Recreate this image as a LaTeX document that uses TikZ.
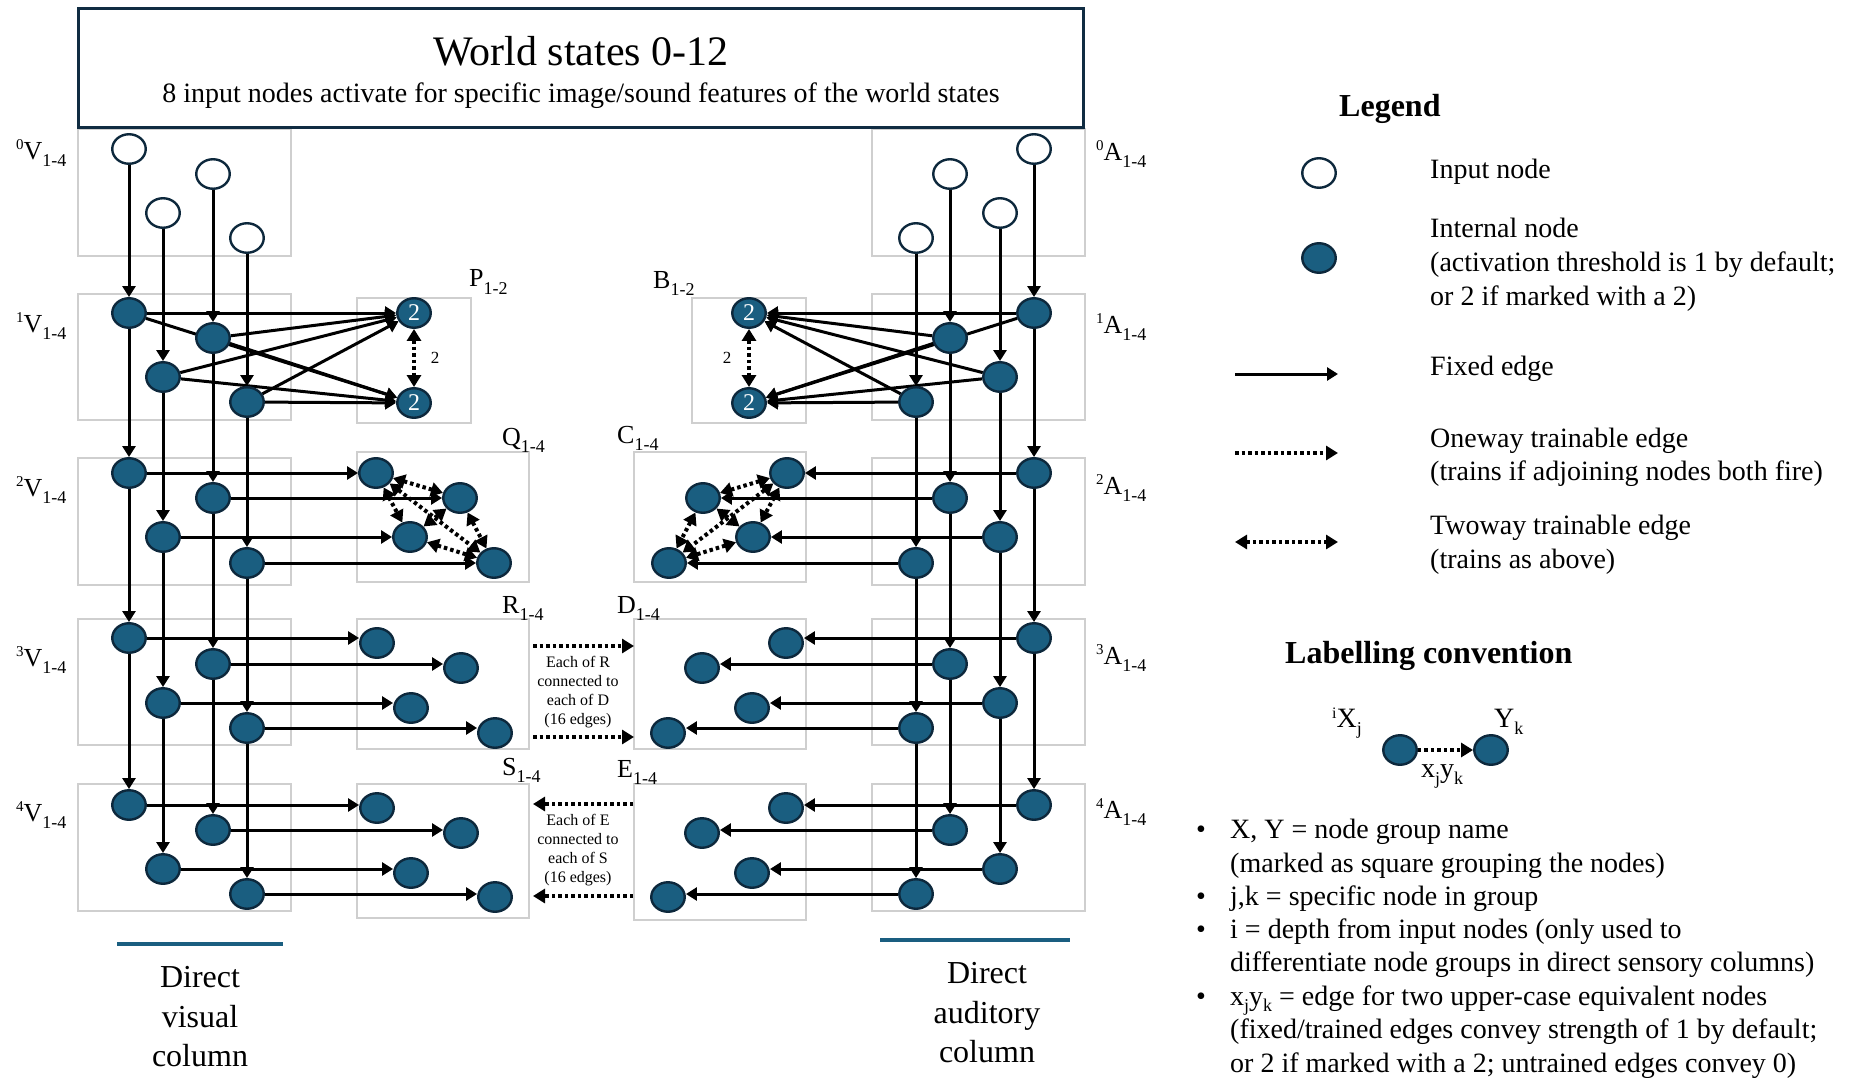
\documentclass[tikz,border=0pt]{standalone}
\usepackage{fontspec}
\setmainfont{Liberation Serif}
\usetikzlibrary{arrows.meta,shapes.geometric}
\definecolor{nodefill}{HTML}{1A5E80}
\definecolor{nodeline}{HTML}{0D283C}
\definecolor{boxgray}{HTML}{CFCFCF}
\definecolor{titleline}{HTML}{102C42}
\newcommand{\fsz}[2]{\fontsize{#1pt}{#2pt}\selectfont}
\newcommand{\grplab}[3]{\raisebox{10pt}{\fsz{15}{15}#1}#2\raisebox{-7pt}{\fsz{18}{18}#3}}
\newcommand{\sublab}[2]{#1\raisebox{-7pt}{\fsz{18}{18}#2}}
\pgfdeclarelayer{boxlayer}
\pgfdeclarelayer{edgelayer}
\pgfsetlayers{boxlayer,edgelayer,main}
\tikzset{
  basenode/.style={ellipse, draw=nodeline, line width=2.4pt, minimum width=33.5pt, minimum height=29.5pt, inner sep=0pt},
  innode/.style={basenode, fill=white},
  intnode/.style={basenode, fill=nodefill, text=white, font=\fsz{24}{24}},
  grpbox/.style={draw=boxgray, line width=1.3pt},
  fixed/.style={line width=3pt, -{Triangle[length=11pt,width=13pt]}},
  dotline/.style={line width=4pt, dash pattern=on 3.5pt off 3pt},
  oneway/.style={dotline, -{Triangle[length=12pt,width=14pt]}},
  twoway/.style={dotline, {Triangle[length=12pt,width=14pt]}-{Triangle[length=12pt,width=14pt]}},
  glab/.style={anchor=base west, inner sep=0pt, font=\fsz{26}{26}},
  legtext/.style={anchor=base west, inner sep=0pt, font=\fsz{28}{28}},
  smalltext/.style={anchor=base, inner sep=0pt, font=\fsz{16}{16}},
  heading/.style={anchor=base west, inner sep=0pt, font=\fsz{32}{32}\bfseries},
  coltext/.style={anchor=base, inner sep=0pt, font=\fsz{32}{32}},
  colline/.style={draw=nodefill, line width=4pt},
  twolab/.style={anchor=center, inner sep=0pt, font=\fsz{17}{17}},
}
\begin{document}
\begin{tikzpicture}[x=1pt,y=-1pt]
\useasboundingbox (0,0) rectangle (1850,1078);

% ---------- title ----------
\node[draw=titleline, line width=3pt, minimum width=1005pt, minimum height=119pt, inner sep=0pt] (world) at (581,68) {};
\node[anchor=base, inner sep=0pt, font=\fsz{42}{42}] (wtitle) at (581,66) {World states 0-12};
\node[anchor=base, inner sep=0pt, font=\fsz{28}{28}] (wsub) at (581,103) {8 input nodes activate for specific image/sound features of the world states};

% ---------- group boxes ----------
\begin{pgfonlayer}{boxlayer}
\foreach \ya/\yb in {129/256, 294/420, 458/585, 619/745, 784/911} {
  \draw[grpbox] (78,\ya) rectangle (291,\yb);
  \draw[grpbox] (872,\ya) rectangle (1085,\yb);
}
\draw[grpbox] (357,298) rectangle (471,423);
\draw[grpbox] (692,298) rectangle (806,423);
\draw[grpbox] (357,452) rectangle (529,582);
\draw[grpbox] (634,452) rectangle (806,582);
\draw[grpbox] (357,619) rectangle (529,749);
\draw[grpbox] (634,619) rectangle (806,749);
\draw[grpbox] (357,784) rectangle (529,918);
\draw[grpbox] (634,784) rectangle (806,920);
\end{pgfonlayer}

% ---------- group labels ----------
\node[glab] (lv0) at (16,160) {\grplab{0}{V}{1-4}};
\node[glab] (lv1) at (16,332) {\grplab{1}{V}{1-4}};
\node[glab] (lv2) at (16,496) {\grplab{2}{V}{1-4}};
\node[glab] (lv3) at (16,666) {\grplab{3}{V}{1-4}};
\node[glab] (lv4) at (16,821) {\grplab{4}{V}{1-4}};
\node[glab] (la0) at (1096,161) {\grplab{0}{A}{1-4}};
\node[glab] (la1) at (1096,333) {\grplab{1}{A}{1-4}};
\node[glab] (la2) at (1096,494) {\grplab{2}{A}{1-4}};
\node[glab] (la3) at (1096,664) {\grplab{3}{A}{1-4}};
\node[glab] (la4) at (1096,818) {\grplab{4}{A}{1-4}};
\node[glab] (lp) at (469,287) {\sublab{P}{1-2}};
\node[glab] (lb) at (653,288) {\sublab{B}{1-2}};
\node[glab] (lq) at (502,445) {\sublab{Q}{1-4}};
\node[glab] (lc) at (617,443) {\sublab{C}{1-4}};
\node[glab] (lr) at (502,613) {\sublab{R}{1-4}};
\node[glab] (ld) at (617,613) {\sublab{D}{1-4}};
\node[glab] (ls) at (502,775) {\sublab{S}{1-4}};
\node[glab] (le) at (617,777) {\sublab{E}{1-4}};

% ---------- sensory columns ----------
\node[innode] (va0) at (129,149) {};
\node[innode] (vb0) at (213,174) {};
\node[innode] (vc0) at (163,213) {};
\node[innode] (vd0) at (247,238) {};
\node[innode] (aa0) at (1034,149) {};
\node[innode] (ab0) at (950,174) {};
\node[innode] (ac0) at (1000,213) {};
\node[innode] (ad0) at (916,238) {};
\foreach \l/\ya/\yb/\yc/\yd in {1/313/338/377/402, 2/473/498/537/563, 3/638/664/703/728, 4/805/830/869/894} {
  \node[intnode] (va\l) at (129,\ya) {};
  \node[intnode] (vb\l) at (213,\yb) {};
  \node[intnode] (vc\l) at (163,\yc) {};
  \node[intnode] (vd\l) at (247,\yd) {};
  \node[intnode] (aa\l) at (1034,\ya) {};
  \node[intnode] (ab\l) at (950,\yb) {};
  \node[intnode] (ac\l) at (1000,\yc) {};
  \node[intnode] (ad\l) at (916,\yd) {};
}

% ---------- inner groups ----------
\node[intnode] (P1) at (414,313) {2};
\node[intnode] (P2) at (414,403) {2};
\node[intnode] (B1) at (749,313) {2};
\node[intnode] (B2) at (749,403) {2};
\node[intnode] (qa) at (376,473) {};
\node[intnode] (qb) at (460,498) {};
\node[intnode] (qc) at (410,537) {};
\node[intnode] (qd) at (494,563) {};
\node[intnode] (ca) at (787,473) {};
\node[intnode] (cb) at (703,498) {};
\node[intnode] (cc) at (753,537) {};
\node[intnode] (cd) at (669,563) {};
\node[intnode] (ra) at (377,643) {};
\node[intnode] (rb) at (461,668) {};
\node[intnode] (rc) at (411,708) {};
\node[intnode] (rd) at (495,733) {};
\node[intnode] (da) at (786,643) {};
\node[intnode] (db) at (702,668) {};
\node[intnode] (dc) at (752,708) {};
\node[intnode] (dd) at (668,733) {};
\node[intnode] (sa) at (377,808) {};
\node[intnode] (sb) at (461,833) {};
\node[intnode] (sc) at (411,873) {};
\node[intnode] (sd) at (495,897) {};
\node[intnode] (ea) at (786,808) {};
\node[intnode] (eb) at (702,833) {};
\node[intnode] (ec) at (752,873) {};
\node[intnode] (ed) at (668,897) {};

\node[twolab] (lp2) at (435,358) {2};
\node[twolab] (lb2) at (727,358) {2};

% ---------- edges ----------
\begin{pgfonlayer}{edgelayer}
\foreach \r in {a,b,c,d} {
  \draw[fixed] (v\r0) -- (v\r1);
  \draw[fixed] (v\r1) -- (v\r2);
  \draw[fixed] (v\r2) -- (v\r3);
  \draw[fixed] (v\r3) -- (v\r4);
  \draw[fixed] (a\r0) -- (a\r1);
  \draw[fixed] (a\r1) -- (a\r2);
  \draw[fixed] (a\r2) -- (a\r3);
  \draw[fixed] (a\r3) -- (a\r4);
  \draw[fixed] (v\r1) -- (P1);
  \draw[fixed] (v\r1) -- (P2);
  \draw[fixed] (a\r1) -- (B1);
  \draw[fixed] (a\r1) -- (B2);
  \draw[fixed] (v\r2) -- (q\r);
  \draw[fixed] (a\r2) -- (c\r);
  \draw[fixed] (v\r3) -- (v\r3 -| r\r.west);
  \draw[fixed] (a\r3) -- (a\r3 -| d\r.east);
  \draw[fixed] (v\r4) -- (v\r4 -| s\r.west);
  \draw[fixed] (a\r4) -- (a\r4 -| e\r.east);
}
\foreach \m/\n in {a/b,a/c,a/d,b/c,b/d,c/d} {
  \draw[twoway] (q\m) -- (q\n);
  \draw[twoway] (c\m) -- (c\n);
}
\draw[twoway] (P1) -- (P2);
\draw[twoway] (B1) -- (B2);

\coordinate (rdas) at (533,646);
\coordinate (rdae) at (634,646);
\coordinate (rdbs) at (533,737);
\coordinate (rdbe) at (634,737);
\coordinate (esas) at (633,804);
\coordinate (esae) at (533,804);
\coordinate (esbs) at (633,896);
\coordinate (esbe) at (533,896);
\draw[oneway] (rdas) -- (rdae);
\draw[oneway] (rdbs) -- (rdbe);
\draw[oneway] (esas) -- (esae);
\draw[oneway] (esbs) -- (esbe);
\end{pgfonlayer}

\foreach \t [count=\i from 0] in {Each of R, connected to, each of D, (16 edges)} {
  \node[smalltext] (rdt\i) at (578,667+19*\i) {\t};
}
\foreach \t [count=\i from 0] in {Each of E, connected to, each of S, (16 edges)} {
  \node[smalltext] (est\i) at (578,825+19*\i) {\t};
}

% ---------- column captions ----------
\coordinate (vl1) at (117,944);
\coordinate (vl2) at (283,944);
\draw[colline] (vl1) -- (vl2);
\coordinate (al1) at (880,940);
\coordinate (al2) at (1070,940);
\draw[colline] (al1) -- (al2);
\node[coltext] (vt1) at (200,987) {Direct};
\node[coltext] (vt2) at (200,1027) {visual};
\node[coltext] (vt3) at (200,1066) {column};
\node[coltext] (at1) at (987,983) {Direct};
\node[coltext] (at2) at (987,1023) {auditory};
\node[coltext] (at3) at (987,1062) {column};

% ---------- legend ----------
\node[heading] (legtitle) at (1339,117) {Legend};
\node[innode] (legin) at (1319,173) {};
\node[legtext] (legint) at (1430,179) {Input node};
\node[intnode] (legnode) at (1319,258) {};
\node[legtext] (legn1) at (1430,237) {Internal node};
\node[legtext] (legn2) at (1430,272) {(activation threshold is 1 by default;};
\node[legtext] (legn3) at (1430,305) {or 2 if marked with a 2)};
\coordinate (lf1) at (1235,374);
\coordinate (lf2) at (1338,374);
\draw[fixed] (lf1) -- (lf2);
\node[legtext] (legf) at (1430,375) {Fixed edge};
\coordinate (lo1) at (1235,453);
\coordinate (lo2) at (1338,453);
\draw[oneway] (lo1) -- (lo2);
\node[legtext] (lego1) at (1430,447) {Oneway trainable edge};
\node[legtext] (lego2) at (1430,480) {(trains if adjoining nodes both fire)};
\coordinate (lt1) at (1235,542);
\coordinate (lt2) at (1338,542);
\draw[twoway] (lt1) -- (lt2);
\node[legtext] (legt1) at (1430,534) {Twoway trainable edge};
\node[legtext] (legt2) at (1430,568) {(trains as above)};

% ---------- labelling convention ----------
\node[heading] (labtitle) at (1285,663) {Labelling convention};
\node[intnode] (exX) at (1400,750) {};
\node[intnode] (exY) at (1491,750) {};
\draw[oneway] (exX) -- (exY);
\node[anchor=base west, inner sep=0pt, font=\fsz{28}{28}] (exXl) at (1332,727) {\raisebox{9pt}{\fsz{16}{16}i}X\raisebox{-7pt}{\fsz{18}{18}j}};
\node[anchor=base west, inner sep=0pt, font=\fsz{28}{28}] (exYl) at (1494,727) {Y\raisebox{-7pt}{\fsz{18}{18}k}};
\node[anchor=base west, inner sep=0pt, font=\fsz{28}{28}] (exEl) at (1421,777) {x\raisebox{-7pt}{\fsz{18}{18}j}y\raisebox{-7pt}{\fsz{18}{18}k}};

\foreach \y in {838,905,938,1005} {
  \node[legtext] at (1196,\y) {•};
}
\node[legtext] (b1a) at (1230,838) {X, Y = node group name};
\node[legtext] (b1b) at (1230,872) {(marked as square grouping the nodes)};
\node[legtext] (b2a) at (1230,905) {j,k = specific node in group};
\node[legtext] (b3a) at (1230,938) {i = depth from input nodes (only used to};
\node[legtext] (b3b) at (1230,971) {differentiate node groups in direct sensory columns)};
\node[legtext] (b4a) at (1230,1005) {x\raisebox{-6pt}{\fsz{18}{18}j}y\raisebox{-6pt}{\fsz{18}{18}k} = edge for two upper-case equivalent nodes};
\node[legtext] (b4b) at (1230,1038) {(fixed/trained edges convey strength of 1 by default;};
\node[legtext] (b4c) at (1230,1072) {or 2 if marked with a 2; untrained edges convey 0)};
\end{tikzpicture}
\end{document}
